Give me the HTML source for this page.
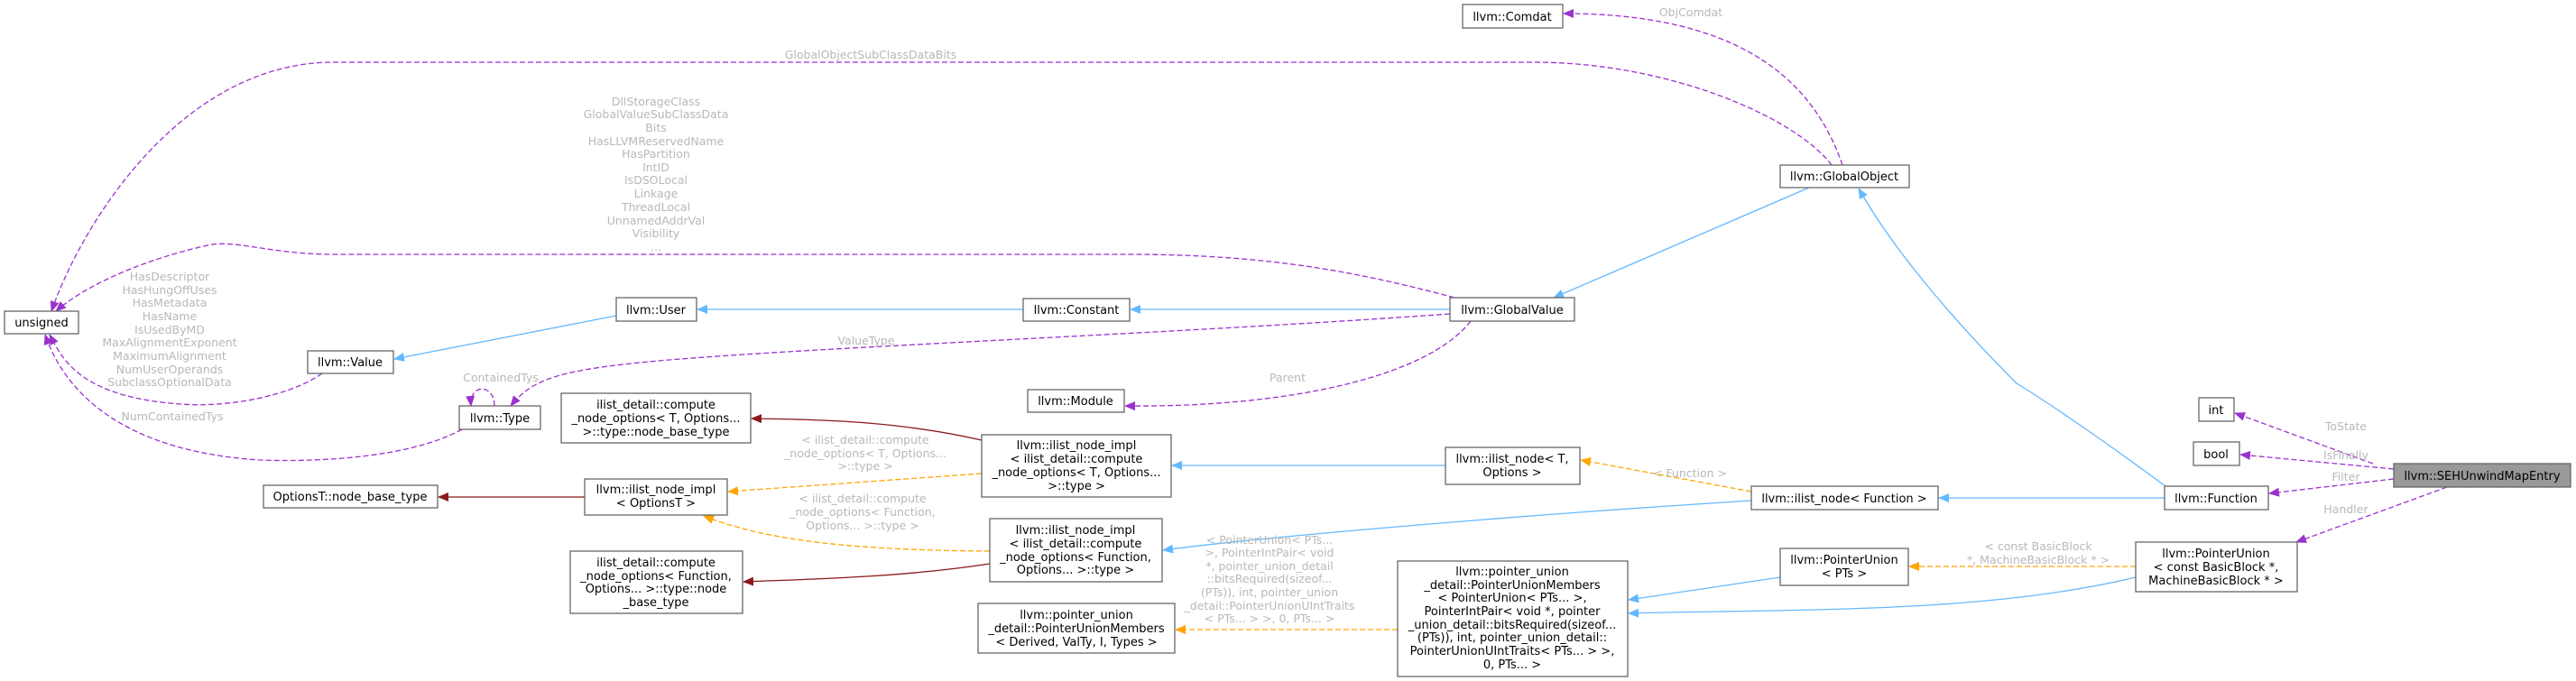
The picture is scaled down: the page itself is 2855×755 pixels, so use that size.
<!DOCTYPE html>
<html><head><meta charset="utf-8"><style>
html,body{margin:0;padding:0;background:#fff;}
svg{display:block;}
text{font-family:"DejaVu Sans","Liberation Sans",sans-serif;}
.n{fill:#fff;stroke:#666;stroke-width:1.3;}
.t{font-size:13px;fill:#000;text-anchor:middle;}
.l{font-size:12.5px;fill:#b8b8b8;text-anchor:middle;}
.p{fill:none;stroke:#9a32cd;stroke-width:1.3;stroke-dasharray:6,3;}
.b{fill:none;stroke:#63b8ff;stroke-width:1.3;}
.o{fill:none;stroke:#ffa500;stroke-width:1.3;stroke-dasharray:6,3;}
.r{fill:none;stroke:#8b1a1a;stroke-width:1.3;}
</style></head><body>
<svg width="2855" height="755" viewBox="0 0 2855 755" xmlns="http://www.w3.org/2000/svg">
<defs>
<marker id="mp" markerWidth="12" markerHeight="10" refX="11" refY="5" orient="auto" markerUnits="userSpaceOnUse"><path d="M0,0 L12,5 L0,10 z" fill="#9a32cd"/></marker>
<marker id="mb" markerWidth="12" markerHeight="10" refX="11" refY="5" orient="auto" markerUnits="userSpaceOnUse"><path d="M0,0 L12,5 L0,10 z" fill="#63b8ff"/></marker>
<marker id="mo" markerWidth="12" markerHeight="10" refX="11" refY="5" orient="auto" markerUnits="userSpaceOnUse"><path d="M0,0 L12,5 L0,10 z" fill="#ffa500"/></marker>
<marker id="mr" markerWidth="12" markerHeight="10" refX="11" refY="5" orient="auto" markerUnits="userSpaceOnUse"><path d="M0,0 L12,5 L0,10 z" fill="#8b1a1a"/></marker>
</defs>

<!-- purple edges -->
<path class="p" marker-end="url(#mp)" d="M2030,183 C1990,130 1850,69 1700,69 L370,69 C200,69 90,250 57,345"/>
<path class="p" marker-end="url(#mp)" d="M2042,183 C2010,90 1930,15 1733,15"/>
<path class="p" marker-end="url(#mp)" d="M1612,330 C1500,300 1400,282 1250,282 L370,282 C300,282 260,265 230,272 C150,290 90,320 62,345"/>
<path class="p" marker-end="url(#mp)" d="M357,414 C320,440 250,452 200,448 C90,440 70,400 55,371"/>
<path class="p" marker-end="url(#mp)" d="M512,476 C450,510 340,512 288,510 C130,500 70,430 50,371"/>
<path class="p" marker-end="url(#mp)" d="M1607,348 C1300,370 900,385 730,400 C620,410 590,420 566,450"/>
<path class="p" marker-end="url(#mp)" d="M548,450 C548,425 520,425 522,450"/>
<path class="p" marker-end="url(#mp)" d="M1630,356 C1580,420 1420,452 1247,450"/>
<path class="p" marker-end="url(#mp)" d="M2630,514 L2477,458"/>
<path class="p" marker-end="url(#mp)" d="M2653,520 L2483,504"/>
<path class="p" marker-end="url(#mp)" d="M2653,531 L2515,547"/>
<path class="p" marker-end="url(#mp)" d="M2712,540 L2545,601"/>

<!-- blue edges -->
<path class="b" marker-end="url(#mb)" d="M683,350 L437,398"/>
<path class="b" marker-end="url(#mb)" d="M1134,343 L773,343"/>
<path class="b" marker-end="url(#mb)" d="M1607,343 L1253,343"/>
<path class="b" marker-end="url(#mb)" d="M2005,208 L1722,330"/>
<path class="b" marker-end="url(#mb)" d="M2400,539 C2320,480 2260,440 2235,425 C2170,360 2100,280 2060,209"/>
<path class="b" marker-end="url(#mb)" d="M2399,552 L2149,552"/>
<path class="b" marker-end="url(#mb)" d="M1941,555 C1700,570 1400,595 1289,610"/>
<path class="b" marker-end="url(#mb)" d="M1602,516 L1299,516"/>
<path class="b" marker-end="url(#mb)" d="M1973,640 L1805,665"/>
<path class="b" marker-end="url(#mb)" d="M2367,640 C2200,680 2000,675 1805,680"/>

<!-- orange edges -->
<path class="o" marker-end="url(#mo)" d="M1941,545 L1752,510"/>
<path class="o" marker-end="url(#mo)" d="M1088,525 L807,545"/>
<path class="o" marker-end="url(#mo)" d="M1097,611 C950,610 850,600 780,572"/>
<path class="o" marker-end="url(#mo)" d="M2367,628 L2116,628"/>
<path class="o" marker-end="url(#mo)" d="M1549,698 L1303,698"/>

<!-- dark red edges -->
<path class="r" marker-end="url(#mr)" d="M1088,488 C1000,468 920,465 833,464"/>
<path class="r" marker-end="url(#mr)" d="M648,551 L486,551"/>
<path class="r" marker-end="url(#mr)" d="M1097,625 C1000,640 900,642 824,645"/>

<!-- edge labels -->
<text class="l" x="965" y="65">GlobalObjectSubClassDataBits</text>
<text class="l" x="1874" y="18">ObjComdat</text>
<g class="l">
<text x="727" y="117">DllStorageClass</text>
<text x="727" y="131">GlobalValueSubClassData</text>
<text x="727" y="146">Bits</text>
<text x="727" y="161">HasLLVMReservedName</text>
<text x="727" y="175">HasPartition</text>
<text x="727" y="190">IntID</text>
<text x="727" y="204">IsDSOLocal</text>
<text x="727" y="219">Linkage</text>
<text x="727" y="234">ThreadLocal</text>
<text x="727" y="249">UnnamedAddrVal</text>
<text x="727" y="263">Visibility</text>
<text x="727" y="278">...</text>
</g>
<g class="l">
<text x="188" y="311">HasDescriptor</text>
<text x="188" y="326">HasHungOffUses</text>
<text x="188" y="340">HasMetadata</text>
<text x="188" y="355">HasName</text>
<text x="188" y="370">IsUsedByMD</text>
<text x="188" y="384">MaxAlignmentExponent</text>
<text x="188" y="399">MaximumAlignment</text>
<text x="188" y="414">NumUserOperands</text>
<text x="188" y="428">SubclassOptionalData</text>
</g>
<text class="l" x="191" y="466">NumContainedTys</text>
<text class="l" x="555" y="423">ContainedTys</text>
<text class="l" x="960" y="382">ValueType</text>
<text class="l" x="1427" y="423">Parent</text>
<g class="l">
<text x="959" y="492">&lt; ilist_detail::compute</text>
<text x="959" y="507">_node_options&lt; T, Options...</text>
<text x="959" y="521">&gt;::type &gt;</text>
<text x="956" y="557">&lt; ilist_detail::compute</text>
<text x="956" y="572">_node_options&lt; Function,</text>
<text x="956" y="587">Options... &gt;::type &gt;</text>
</g>
<g class="l">
<text x="1407" y="603">&lt; PointerUnion&lt; PTs...</text>
<text x="1407" y="617">&gt;, PointerIntPair&lt; void</text>
<text x="1407" y="632">*, pointer_union_detail</text>
<text x="1407" y="646">::bitsRequired(sizeof...</text>
<text x="1407" y="661">(PTs)), int, pointer_union</text>
<text x="1407" y="676">_detail::PointerUnionUIntTraits</text>
<text x="1407" y="690">&lt; PTs... &gt; &gt;, 0, PTs... &gt;</text>
</g>
<text class="l" x="1873" y="529">&lt; Function &gt;</text>
<text class="l" x="2259" y="610">&lt; const BasicBlock</text>
<text class="l" x="2259" y="625">*, MachineBasicBlock * &gt;</text>
<text class="l" x="2600" y="477">ToState</text>
<text class="l" x="2600" y="509">IsFinally</text>
<text class="l" x="2600" y="533">Filter</text>
<text class="l" x="2600" y="569">Handler</text>

<!-- nodes -->
<rect class="n" x="5" y="345" width="82" height="25"/><text class="t" x="46" y="362">unsigned</text>
<rect class="n" x="341" y="389" width="95" height="25"/><text class="t" x="388" y="406">llvm::Value</text>
<rect class="n" x="683" y="330" width="89" height="26"/><text class="t" x="727" y="348">llvm::User</text>
<rect class="n" x="509" y="450" width="90" height="26"/><text class="t" x="554" y="468">llvm::Type</text>
<rect class="n" x="622" y="436" width="210" height="55"/>
<text class="t" x="727" y="453">ilist_detail::compute</text><text class="t" x="727" y="468">_node_options&lt; T, Options...</text><text class="t" x="727" y="483">&gt;::type::node_base_type</text>
<rect class="n" x="292" y="538" width="193" height="25"/><text class="t" x="388" y="555">OptionsT::node_base_type</text>
<rect class="n" x="648" y="531" width="158" height="40"/>
<text class="t" x="727" y="547">llvm::ilist_node_impl</text><text class="t" x="727" y="562">&lt; OptionsT &gt;</text>
<rect class="n" x="632" y="611" width="191" height="69"/>
<text class="t" x="727" y="628">ilist_detail::compute</text><text class="t" x="727" y="643">_node_options&lt; Function,</text><text class="t" x="727" y="657">Options... &gt;::type::node</text><text class="t" x="727" y="672">_base_type</text>
<rect class="n" x="1134" y="331" width="118" height="25"/><text class="t" x="1193" y="348">llvm::Constant</text>
<rect class="n" x="1139" y="432" width="107" height="25"/><text class="t" x="1192" y="449">llvm::Module</text>
<rect class="n" x="1088" y="482" width="210" height="69"/>
<text class="t" x="1193" y="498">llvm::ilist_node_impl</text><text class="t" x="1193" y="513">&lt; ilist_detail::compute</text><text class="t" x="1193" y="528">_node_options&lt; T, Options...</text><text class="t" x="1193" y="543">&gt;::type &gt;</text>
<rect class="n" x="1097" y="575" width="191" height="70"/>
<text class="t" x="1192" y="592">llvm::ilist_node_impl</text><text class="t" x="1192" y="607">&lt; ilist_detail::compute</text><text class="t" x="1192" y="622">_node_options&lt; Function,</text><text class="t" x="1192" y="636">Options... &gt;::type &gt;</text>
<rect class="n" x="1084" y="669" width="218" height="55"/>
<text class="t" x="1193" y="686">llvm::pointer_union</text><text class="t" x="1193" y="701">_detail::PointerUnionMembers</text><text class="t" x="1193" y="716">&lt; Derived, ValTy, I, Types &gt;</text>
<rect class="n" x="1621" y="5" width="111" height="26"/><text class="t" x="1676" y="23">llvm::Comdat</text>
<rect class="n" x="1607" y="330" width="138" height="26"/><text class="t" x="1676" y="348">llvm::GlobalValue</text>
<rect class="n" x="1973" y="183" width="143" height="25"/><text class="t" x="2044" y="200">llvm::GlobalObject</text>
<rect class="n" x="1602" y="496" width="149" height="41"/>
<text class="t" x="1676" y="513">llvm::ilist_node&lt; T,</text><text class="t" x="1676" y="528">Options &gt;</text>
<rect class="n" x="1941" y="539" width="207" height="26"/><text class="t" x="2044" y="557">llvm::ilist_node&lt; Function &gt;</text>
<rect class="n" x="2399" y="539" width="115" height="26"/><text class="t" x="2456" y="557">llvm::Function</text>
<rect class="n" x="2437" y="441" width="39" height="26"/><text class="t" x="2456" y="459">int</text>
<rect class="n" x="2431" y="490" width="51" height="26"/><text class="t" x="2456" y="508">bool</text>
<rect x="2653" y="514" width="196" height="26" fill="#999" stroke="#666" stroke-width="1.3"/><text class="t" x="2751" y="532">llvm::SEHUnwindMapEntry</text>
<rect class="n" x="1973" y="608" width="142" height="41"/>
<text class="t" x="2044" y="625">llvm::PointerUnion</text><text class="t" x="2044" y="640">&lt; PTs &gt;</text>
<rect class="n" x="2367" y="601" width="179" height="55"/>
<text class="t" x="2456" y="618">llvm::PointerUnion</text><text class="t" x="2456" y="633">&lt; const BasicBlock *,</text><text class="t" x="2456" y="648">MachineBasicBlock * &gt;</text>
<rect class="n" x="1549" y="622" width="255" height="128"/>
<g class="t">
<text x="1676" y="638">llvm::pointer_union</text>
<text x="1676" y="653">_detail::PointerUnionMembers</text>
<text x="1676" y="667">&lt; PointerUnion&lt; PTs... &gt;,</text>
<text x="1676" y="682">PointerIntPair&lt; void *, pointer</text>
<text x="1676" y="697">_union_detail::bitsRequired(sizeof...</text>
<text x="1676" y="711">(PTs)), int, pointer_union_detail::</text>
<text x="1676" y="726">PointerUnionUIntTraits&lt; PTs... &gt; &gt;,</text>
<text x="1676" y="741">0, PTs... &gt;</text>
</g>
</svg>
</body></html>
